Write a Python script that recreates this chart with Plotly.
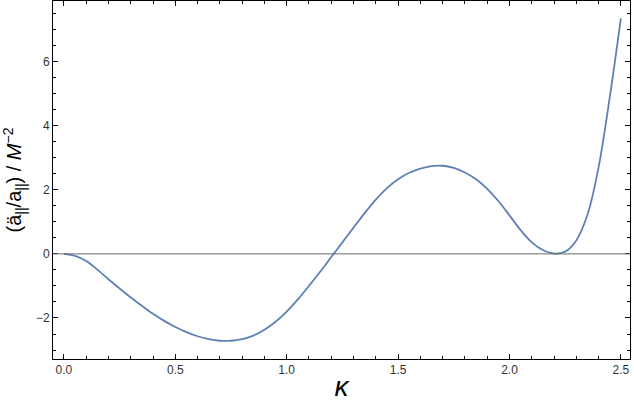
"""
Acceleration ratio (a''/a) versus kappa, styled like a Mathematica framed plot.
"""

import plotly.graph_objects as go

# values (step 0.05 in kappa)
kappa = [0.00, 0.05, 0.10, 0.15, 0.20, 0.25, 0.30, 0.35, 0.40, 0.45,
         0.50, 0.55, 0.60, 0.65, 0.70, 0.75, 0.80, 0.85, 0.90, 0.95,
         1.00, 1.05, 1.10, 1.15, 1.20, 1.25, 1.30, 1.35, 1.40, 1.45,
         1.50, 1.55, 1.60, 1.65, 1.70, 1.75, 1.80, 1.85, 1.90, 1.95,
         2.00, 2.05, 2.10, 2.15, 2.20, 2.25, 2.30, 2.35, 2.40, 2.45, 2.50]
accel = [0.00, -0.06, -0.22, -0.49, -0.79, -1.08, -1.36, -1.62, -1.87, -2.09,
         -2.28, -2.44, -2.57, -2.66, -2.71, -2.71, -2.66, -2.55, -2.37, -2.12,
         -1.80, -1.42, -1.00, -0.56, -0.10, 0.36, 0.82, 1.27, 1.69, 2.05,
         2.33, 2.53, 2.66, 2.74, 2.75, 2.68, 2.54, 2.33, 2.03, 1.65,
         1.20, 0.74, 0.36, 0.12, 0.01, 0.07, 0.42, 1.22, 2.70, 4.88, 7.35]

x_ticks = [0.0, 0.5, 1.0, 1.5, 2.0, 2.5]
x_labels = ["0.0", "0.5", "1.0", "1.5", "2.0", "2.5"]
y_ticks = [-2, 0, 2, 4, 6]

fig = go.Figure()

# zero reference line
fig.add_hline(y=0, line=dict(color="#6b6b6b", width=1))

fig.add_trace(go.Scatter(
    x=kappa,
    y=accel,
    mode="lines",
    line=dict(color="#5E81B5", width=1.8, shape="spline", smoothing=0.9),
    showlegend=False,
    hoverinfo="x+y",
))

frame = dict(
    showline=True,
    linecolor="black",
    linewidth=1,
    mirror="ticks",
    ticks="inside",
    ticklen=5,
    tickwidth=1,
    tickcolor="black",
    showgrid=False,
    zeroline=False,
    tickfont=dict(family="Liberation Sans", size=12, color="#333333"),
)

fig.update_layout(
    width=634,
    height=402,
    paper_bgcolor="white",
    plot_bgcolor="white",
    margin=dict(l=53, r=4, t=1, b=43),
    xaxis=dict(
        frame,
        range=[-0.049, 2.541],
        tickvals=x_ticks,
        ticktext=x_labels,
        minor=dict(dtick=0.1, tick0=0, ticks="inside", ticklen=3,
                   tickcolor="black", showgrid=False),
        title=dict(text="<i>κ</i>", font=dict(family="Liberation Sans", size=28, color="black"),
                   standoff=0),
    ),
    yaxis=dict(
        frame,
        range=[-3.28, 7.89],
        tickvals=y_ticks,
        minor=dict(dtick=0.5, tick0=0, ticks="inside", ticklen=3,
                   tickcolor="black", showgrid=False),
        title=dict(
            text="(ä<sub>||</sub>/a<sub>||</sub>) / <i>M</i><sup>−2</sup>",
            font=dict(family="Liberation Sans", size=20, color="black"),
            standoff=10,
        ),
    ),
)

# page body has a default 8px margin; drop it so the figure sits at the window corner
fig.write_html(
    "out.html",
    config={"displayModeBar": False},
    post_script="document.body.style.margin='0';",
)
